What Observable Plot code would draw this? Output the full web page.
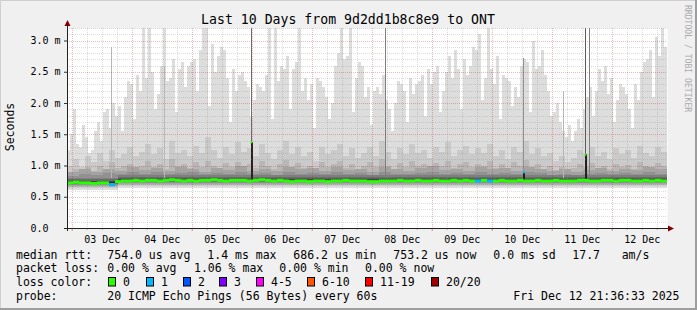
<!DOCTYPE html>
<html><head><meta charset="utf-8">
<script src="https://cdn.jsdelivr.net/npm/d3@7"></script>
<script src="https://cdn.jsdelivr.net/npm/@observablehq/plot@0.6"></script>
<style>
html,body{margin:0;padding:0;background:#f0f0f0;}
#chart svg text{white-space:pre;}
</style></head><body><div id="chart"></div>
<script>
// ---------- data ----------
const startTime = "2025-12-02T22:07:00Z";
const endTime   = "2025-12-12T22:07:00Z";
const stepMinutes = 72;              // one smoke column = 72 min

// highest ping (p20) per 72-minute column, ms
const pingMax = [
1.25,1.50,1.90,1.35,1.30,1.65,1.45,1.20,1.25,1.55,
1.70,1.40,1.85,1.90,1.60,2.00,1.80,1.95,1.55,2.10,
2.35,2.30,1.75,2.45,2.20,3.25,2.40,3.25,2.50,1.90,
2.15,2.60,3.25,2.35,2.40,2.70,1.85,2.55,2.65,2.25,
2.60,2.65,2.70,2.20,2.85,3.25,3.25,1.95,2.95,2.50,
2.75,2.90,2.85,2.40,1.70,2.55,2.20,2.45,2.50,2.35,
2.25,1.80,2.05,2.30,2.25,2.20,2.45,3.25,1.75,3.25,
2.35,2.60,2.55,2.75,1.90,2.55,2.65,3.25,2.20,2.40,
2.05,2.30,1.60,2.40,2.35,2.25,2.10,1.75,2.00,2.60,
2.80,3.25,2.70,2.75,3.25,1.85,2.40,2.65,2.60,2.10,
2.25,1.65,2.20,2.25,2.15,2.45,2.05,1.90,1.55,2.00,
2.35,2.30,2.20,1.70,2.40,2.15,2.30,2.35,2.45,1.80,
2.55,2.30,2.50,2.60,1.85,2.20,2.50,2.75,2.40,2.85,
2.55,1.90,2.70,2.45,2.60,2.90,2.85,3.10,2.05,2.40,
3.25,2.55,2.30,2.75,1.75,2.45,2.40,2.35,1.95,2.25,
2.10,2.60,2.70,2.65,1.85,3.00,2.55,2.60,2.85,2.45,
2.20,1.80,1.85,2.00,1.70,1.55,1.45,1.65,1.40,1.55,
1.75,1.60,1.90,2.10,2.25,1.80,2.20,2.55,2.35,2.60,
2.15,2.40,1.70,2.05,2.30,2.25,2.15,1.90,1.60,2.30,
2.05,2.50,2.65,2.70,2.85,2.10,3.05,2.75,3.25,2.90
];
// second highest ping (p19) per 144-minute slot, ms
const ping19 = [
1.00,1.10,0.98,1.15,1.05,1.20,1.08,1.25,1.12,1.18,
1.30,1.15,1.22,1.35,1.18,1.28,1.10,1.40,1.20,1.25,
1.15,1.32,1.20,1.45,1.25,1.12,1.30,1.18,1.38,1.22,
1.28,1.15,1.35,1.20,1.10,1.25,1.40,1.18,1.30,1.15,
1.22,1.08,1.30,1.18,1.25,1.35,1.15,1.28,1.12,1.20,
1.30,1.15,1.40,1.22,1.10,1.28,1.18,1.35,1.20,1.25,
1.12,1.30,1.22,1.38,1.15,1.25,1.32,1.18,1.28,1.20,
1.35,1.15,1.25,1.10,1.30,1.22,1.40,1.18,1.28,1.15,
1.20,1.08,1.15,1.05,1.12,1.25,1.18,1.30,1.15,1.22,
1.10,1.28,1.18,1.25,1.12,1.32,1.20,1.15,1.30,1.22
];
// third highest ping (p18) per 144-minute slot, ms
const ping18 = [
0.90,0.95,0.88,0.98,0.92,1.00,0.94,1.05,0.96,0.99,
1.02,0.95,1.00,1.08,0.97,1.03,0.95,1.10,0.99,1.02,
0.96,1.05,0.98,1.08,1.00,0.95,1.04,0.98,1.06,1.00,
1.03,0.96,1.07,0.99,0.94,1.02,1.09,0.97,1.04,0.96,
1.00,0.93,1.05,0.98,1.02,1.08,0.96,1.03,0.95,0.99,
1.05,0.97,1.10,1.00,0.94,1.04,0.98,1.07,0.99,1.02,
0.95,1.04,1.00,1.08,0.96,1.02,1.06,0.98,1.03,0.99,
1.07,0.96,1.02,0.94,1.05,1.00,1.09,0.97,1.03,0.95,
0.99,0.93,0.97,0.92,0.96,1.02,0.98,1.04,0.96,1.00,
0.94,1.03,0.97,1.01,0.95,1.05,0.99,0.96,1.04,1.00
];
// p17 and p16 per 288-minute slot, ms
const ping17 = [
0.90,0.94,0.89,0.95,0.92,0.97,0.93,0.96,0.91,0.98,
0.94,0.90,0.96,0.93,0.99,0.92,0.95,0.91,0.97,0.94,
0.96,0.92,0.98,0.93,0.95,0.90,0.97,0.94,0.92,0.96,
0.99,0.93,0.95,0.91,0.97,0.94,0.96,0.92,0.98,0.95,
0.91,0.94,0.89,0.93,0.96,0.92,0.95,0.93,0.97,0.94
];
const ping16 = [
0.84,0.87,0.85,0.88,0.86,0.89,0.87,0.90,0.86,0.88,
0.89,0.86,0.88,0.87,0.90,0.86,0.88,0.85,0.89,0.87,
0.88,0.86,0.90,0.87,0.88,0.85,0.89,0.87,0.86,0.88,
0.90,0.87,0.88,0.86,0.89,0.87,0.88,0.86,0.90,0.88,
0.85,0.87,0.84,0.86,0.88,0.86,0.88,0.87,0.89,0.87
];
// median rtt per 144-minute slot, ms
const medianRtt = [
0.73,0.74,0.73,0.73,0.72,0.73,0.73,0.70,0.75,0.76,
0.76,0.77,0.76,0.77,0.77,0.76,0.77,0.78,0.77,0.76,
0.77,0.76,0.77,0.77,0.78,0.77,0.76,0.77,0.77,0.77,
0.76,0.77,0.78,0.77,0.76,0.77,0.76,0.75,0.76,0.76,
0.75,0.76,0.76,0.75,0.76,0.76,0.77,0.76,0.76,0.76,
0.75,0.75,0.76,0.76,0.76,0.77,0.76,0.76,0.77,0.76,
0.76,0.77,0.76,0.76,0.77,0.76,0.77,0.76,0.76,0.77,
0.76,0.76,0.77,0.76,0.76,0.77,0.76,0.76,0.77,0.76,
0.76,0.77,0.76,0.76,0.76,0.77,0.77,0.76,0.76,0.77,
0.77,0.76,0.77,0.77,0.76,0.76,0.77,0.76,0.77,0.76
];
// slots of the median series with packet loss (pings lost)
const lossSlot  = [7, 68, 70];
const lossCount = [1, 1, 1];
// typical sorted ping values (ms): p1..p10 and p11..p15, first day and later
const lowPingsDay1  = [0.61,0.64,0.66,0.68,0.69,0.70,0.71,0.715,0.72,0.725];
const highPingsDay1 = [0.735,0.745,0.76,0.78,0.80];
const lowPings      = [0.64,0.67,0.69,0.71,0.72,0.73,0.74,0.75,0.755,0.76];
const highPings     = [0.775,0.785,0.80,0.82,0.845];
const day1Columns = 17;
// short bursts: time, top of burst (ms), pings in the burst, median during burst
const burstTime   = ["2025-12-03T15:43Z","2025-12-04T12:55Z","2025-12-05T23:31Z","2025-12-08T05:19Z",
                     "2025-12-10T12:31Z","2025-12-11T04:31Z","2025-12-11T13:07Z","2025-12-11T14:55Z"];
const burstTop    = [2.90, 2.60, 3.25, 3.25, 2.72, 2.20, 3.25, 3.25];
const burstPings  = [3, 3, 7, 6, 5, 3, 8, 6];
const burstMedian = [null, null, 1.38, null, 0.90, null, 1.18, null];
const burstLoss   = [0, 0, 0, 0, 1, 0, 0, 0];

const lossLabels = ["0","1","2","3","4-5","6-10","11-19","20/20"];
const lossColors = ["#26ff00","#00b8ff","#0059ff","#7e00ff","#ff00ff","#ff5500","#ff0000","#a10000"];
const yTickValues = [0, 0.5, 1.0, 1.5, 2.0, 2.5, 3.0];
const yTickLabels = ["0.0  ","0.5 m","1.0 m","1.5 m","2.0 m","2.5 m","3.0 m"];

const titleText = "Last 10 Days from 9d2dd1b8c8e9 to ONT";
const yLabel = "Seconds";
const watermark = "RRDTOOL / TOBI OETIKER";
const statsRtt  = [["median rtt:",16],["754.0 us avg",107.3],["1.4 ms max",207.3],["686.2 us min",293.3],["753.2 us now",393.3],["0.0 ms sd",493.3],["17.7",572.3],["am/s",621.7]];
const statsLoss = [["packet loss:",16],["0.00 % avg",107.3],["1.06 % max",194],["0.00 % min",279.3],["0.00 % now",365]];
const probeText = ["probe:","20 ICMP Echo Pings (56 Bytes) every 60s","Fri Dec 12 21:36:33 2025"];

// ---------- build ----------
const MIN = 60000;
const t0 = new Date(startTime), tEnd = new Date(endTime);
const cols = pingMax.map((mx, i) => {
  const d1 = i < day1Columns;
  const p = [...(d1 ? lowPingsDay1 : lowPings), ...(d1 ? highPingsDay1 : highPings),
             ping16[i >> 2], ping17[i >> 2], ping18[i >> 1], ping19[i >> 1], mx];
  return {t1: new Date(+t0 + i * stepMinutes * MIN), t2: new Date(+t0 + (i + 1) * stepMinutes * MIN), p};
});
const smoke = [];
for (let k = 0; k < 10; k++) for (const c of cols) smoke.push({t1: c.t1, t2: c.t2, y1: c.p[k], y2: c.p[19 - k], layer: k + 1});
const grey = layer => { const v = Math.floor(190 / 10 * (10 - layer)) + 50; return `rgb(${v},${v},${v})`; };

const lossIdx = c => c === 0 ? 0 : c <= 3 ? c : c <= 5 ? 4 : c <= 10 ? 5 : c < 20 ? 6 : 7;
const med = medianRtt.map((m, j) => {
  const li = lossSlot.indexOf(j);
  return {t1: new Date(+t0 + j * 2 * stepMinutes * MIN), t2: new Date(+t0 + (j + 1) * 2 * stepMinutes * MIN), m, loss: li < 0 ? 0 : lossCount[li]};
});
const bursts = burstTime.map((t, i) => ({t1: new Date(t), t2: new Date(+new Date(t) + 24 * MIN), t3: new Date(+new Date(t) + 48 * MIN),
  top: burstTop[i], n: burstPings[i], m: burstMedian[i], loss: burstLoss[i]}));

const dayStarts = d3.utcDay.range(d3.utcDay.ceil(t0), tEnd);
const dayNoons = dayStarts.map(d => d3.utcHour.offset(d, 12)).filter(d => d < tEnd);
const sixHours = d3.utcHour.every(6).range(t0, tEnd).filter(d => d.getUTCHours() !== 0);
const minorY = d3.range(1, 33).map(v => v / 10).filter(v => Math.round(v * 10) % 5 !== 0);
const majorY = [0.5, 1.0, 1.5, 2.0, 2.5, 3.0];

const font = "DejaVu Sans Mono";
const chart = Plot.plot({
  width: 697, height: 310,
  marginLeft: 67, marginRight: 30, marginTop: 28, marginBottom: 82,
  style: {background: "#f0f0f0", fontFamily: font, fontSize: "10px", color: "#000", overflow: "visible"},
  x: {type: "utc", domain: [t0, tEnd]},
  y: {domain: [0, 3.2]},
  marks: [
    Plot.frame({fill: "white", stroke: null}),
    Plot.rect(smoke, {x1: "t1", x2: "t2", y1: "y1", y2: "y2", fill: d => grey(d.layer), clip: true, shapeRendering: "crispEdges"}),
    Plot.rect(bursts, {x1: "t1", x2: "t2", y1: 0.8, y2: "top", fill: d => grey(d.n), clip: true, shapeRendering: "crispEdges"}),
    Plot.rect(bursts.filter(d => d.m != null), {x1: "t1", x2: "t3", y1: 0.77, y2: "m", fill: "#202020", shapeRendering: "crispEdges"}),
    Plot.gridY(minorY, {stroke: "#8c8c8c", strokeOpacity: 0.3, strokeDasharray: "1,1", shapeRendering: "crispEdges"}),
    Plot.gridX(sixHours, {stroke: "#8c8c8c", strokeOpacity: 0.3, strokeDasharray: "1,1", shapeRendering: "crispEdges"}),
    Plot.gridY(majorY, {stroke: "#b01e1e", strokeOpacity: 0.3, strokeDasharray: "1,1", shapeRendering: "crispEdges"}),
    Plot.gridX(dayStarts, {stroke: "#b01e1e", strokeOpacity: 0.3, strokeDasharray: "1,1", shapeRendering: "crispEdges"}),
    Plot.ruleY(med, {x1: "t1", x2: "t2", y: "m", stroke: d => lossColors[lossIdx(d.loss)], strokeWidth: 3}),
    Plot.ruleY(bursts.filter(d => d.m != null), {x1: "t1", x2: "t3", y: "m", stroke: d => lossColors[lossIdx(d.loss)], strokeWidth: 2}),
    Plot.axisY(yTickValues, {tickFormat: (d) => yTickLabels[yTickValues.indexOf(d)], tickSize: 3, tickPadding: 4, stroke: "#333", label: null, fontSize: 10}),
    Plot.axisX(dayNoons, {tickFormat: d3.utcFormat("%d %b"), tickSize: 0, tickPadding: 7, label: null, fontSize: 10}),
    Plot.axisX(dayStarts, {tickFormat: () => "", tickSize: 3, stroke: "#c21e1e", strokeOpacity: 0.5, label: null}),
    Plot.axisX(sixHours, {tickFormat: () => "", tickSize: 2, stroke: "#8c8c8c", strokeOpacity: 0.6, label: null})
  ]
});
document.getElementById("chart").appendChild(chart);

// ---------- decorations ----------
const svg = d3.select(chart);
const xs = chart.scale("x"), ys = chart.scale("y");
const xL = xs.apply(t0), xR = xs.apply(tEnd), yB = ys.apply(0), yT = ys.apply(3.2);
// border shading
svg.append("rect").attr("x", 0).attr("y", 0).attr("width", 697).attr("height", 1).attr("fill", "#cfcfcf");
svg.append("rect").attr("x", 0).attr("y", 0).attr("width", 1).attr("height", 310).attr("fill", "#cfcfcf");
svg.append("rect").attr("x", 695).attr("y", 0).attr("width", 2).attr("height", 310).attr("fill", "#9e9e9e");
svg.append("rect").attr("x", 0).attr("y", 308).attr("width", 697).attr("height", 2).attr("fill", "#9e9e9e");
// axes lines and arrows
svg.append("line").attr("x1", xL - 3).attr("x2", xR + 1).attr("y1", yB + 0.5).attr("y2", yB + 0.5).attr("stroke", "#222");
svg.append("line").attr("x1", xL + 0.5).attr("x2", xL + 0.5).attr("y1", yB + 3).attr("y2", yT - 3).attr("stroke", "#222");
svg.append("path").attr("d", `M${xL - 2.5},${yT - 2}L${xL + 3.5},${yT - 2}L${xL + 0.5},${yT - 8}Z`).attr("fill", "#7f0000");
svg.append("path").attr("d", `M${xR + 1},${yB - 2.5}L${xR + 1},${yB + 3.5}L${xR + 7},${yB + 0.5}Z`).attr("fill", "#7f0000");
// title, axis label, watermark
const txt = (x, y, s, size, opts = {}) => svg.append("text").attr("x", x).attr("y", y).text(s)
  .attr("font-family", font).attr("font-size", size).attr("fill", opts.fill || "#000")
  .attr("text-anchor", opts.anchor || "start").attr("transform", opts.transform || null);
txt(348, 23.5, titleText, 13.2, {anchor: "middle"});
txt(0, 0, yLabel, 11.5, {anchor: "middle", transform: "translate(14,127) rotate(-90)"});
txt(0, 0, watermark, 8.1, {fill: "#aaa", transform: "translate(685,5) rotate(90)"});
// legend rows
const fs = 11.5;
statsRtt.forEach(([s, x]) => txt(x, 258.5, s, fs));
statsLoss.forEach(([s, x]) => txt(x, 272.3, s, fs));
txt(16, 286, "loss color:", fs);
const boxX = [108.3, 145.7, 182.7, 219.3, 256.3, 307, 365, 430.7];
lossLabels.forEach((l, i) => {
  svg.append("rect").attr("x", Math.round(boxX[i]) + 0.5).attr("y", 277.5).attr("width", 7).attr("height", 8.5)
    .attr("fill", lossColors[i]).attr("stroke", "#000");
  txt(Math.round(boxX[i]) + 15, 286, l, fs);
});
txt(16, 299.8, probeText[0], fs);
txt(107.3, 299.8, probeText[1], fs);
txt(513.3, 299.8, probeText[2], fs);
</script></body></html>
